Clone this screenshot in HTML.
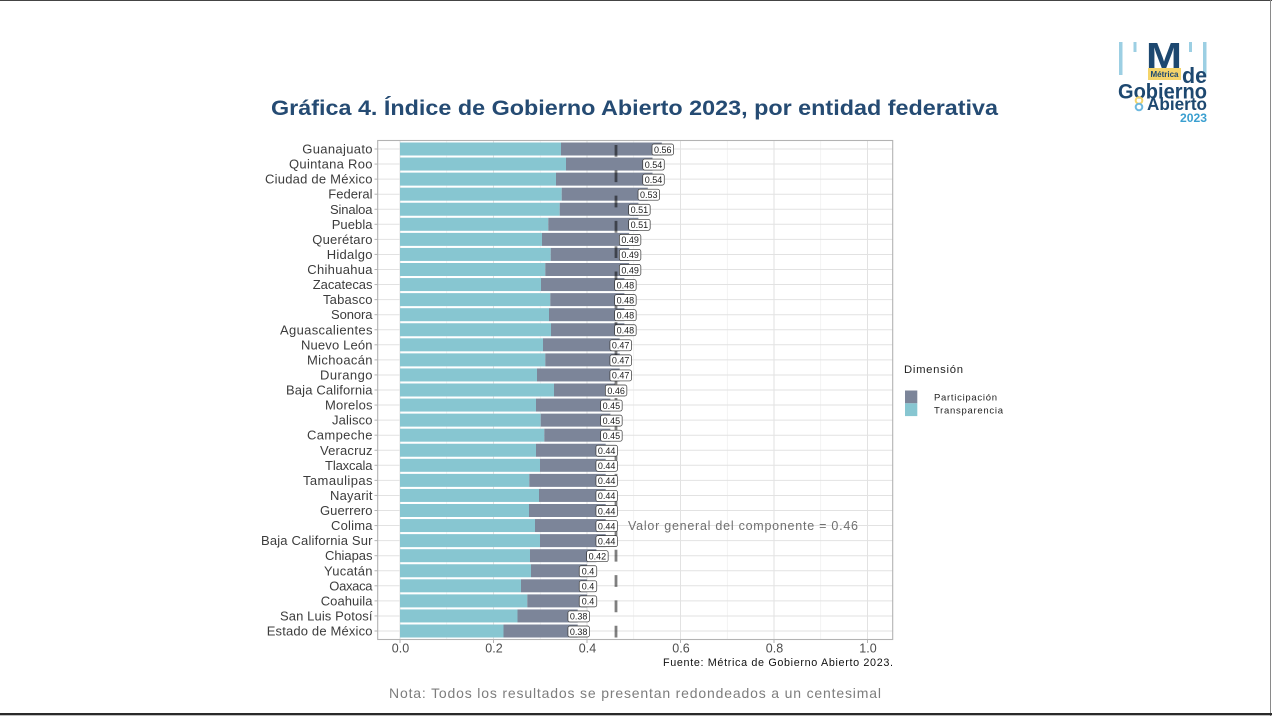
<!DOCTYPE html>
<html><head><meta charset="utf-8"><style>
html,body{margin:0;padding:0;background:#fff;}
svg{display:block;font-family:"Liberation Sans",sans-serif;}
</style></head><body>
<svg width="1272" height="716" viewBox="0 0 1272 716" xmlns="http://www.w3.org/2000/svg">
<rect x="0" y="0" width="1272" height="716" fill="#fff"/>
<!-- frame -->
<line x1="0" y1="0.5" x2="1272" y2="0.5" stroke="#444" stroke-width="1"/>
<line x1="1270.5" y1="0" x2="1270.5" y2="716" stroke="#8a8a8a" stroke-width="1"/>
<rect x="0" y="713" width="1272" height="2.3" fill="#2a2a2a"/>

<!-- Logo -->
<g>
<rect x="1119" y="42" width="3.5" height="33" fill="#9ccfe3"/>
<rect x="1133.5" y="42" width="3" height="10" fill="#9ccfe3"/>
<rect x="1189" y="42" width="3" height="10" fill="#9ccfe3"/>
<rect x="1203" y="42" width="3.5" height="34" fill="#9ccfe3"/>
<text x="1146" y="68" font-size="36" font-weight="bold" fill="#1d4870" textLength="36" lengthAdjust="spacingAndGlyphs">M</text>
<rect x="1148" y="68" width="33" height="12" fill="#f4d46a"/>
<text x="1164.5" y="77" font-size="8" font-weight="bold" fill="#1d4870" text-anchor="middle">Métrica</text>
<text x="1182" y="83" font-size="22" font-weight="bold" fill="#1d4870" textLength="25" lengthAdjust="spacingAndGlyphs">de</text>
<text x="1118" y="98.5" font-size="21" font-weight="bold" fill="#1d4870" textLength="89" lengthAdjust="spacingAndGlyphs">Gobierno</text>
<text x="1147" y="110" font-size="17.5" font-weight="bold" fill="#1d4870" textLength="60" lengthAdjust="spacingAndGlyphs">Abierto</text>
<circle cx="1139" cy="100.5" r="3.3" fill="none" stroke="#f4d46a" stroke-width="2"/>
<circle cx="1139" cy="107" r="3.3" fill="none" stroke="#6db8de" stroke-width="2"/>
<text x="1180" y="122" font-size="12" font-weight="bold" fill="#3a9fd0" textLength="27" lengthAdjust="spacingAndGlyphs">2023</text>
</g>

<!-- Title -->
<text x="271" y="115" font-size="21" font-weight="bold" fill="#254b73" textLength="727" lengthAdjust="spacingAndGlyphs">Gráfica 4. Índice de Gobierno Abierto 2023, por entidad federativa</text>

<!-- grid -->
<g stroke="#ececec" stroke-width="0.6">
<line x1="446.75" y1="140" x2="446.75" y2="640"/>
<line x1="540.25" y1="140" x2="540.25" y2="640"/>
<line x1="633.75" y1="140" x2="633.75" y2="640"/>
<line x1="727.25" y1="140" x2="727.25" y2="640"/>
<line x1="820.75" y1="140" x2="820.75" y2="640"/>
</g>
<g stroke="#e2e2e2" stroke-width="1">
<line x1="400" y1="140" x2="400" y2="640"/>
<line x1="493.5" y1="140" x2="493.5" y2="640"/>
<line x1="587" y1="140" x2="587" y2="640"/>
<line x1="680.5" y1="140" x2="680.5" y2="640"/>
<line x1="774" y1="140" x2="774" y2="640"/>
<line x1="867.5" y1="140" x2="867.5" y2="640"/>
<line x1="378" y1="149" x2="892.5" y2="149"/>
<line x1="378" y1="164.06" x2="892.5" y2="164.06"/>
<line x1="378" y1="179.13" x2="892.5" y2="179.13"/>
<line x1="378" y1="194.19" x2="892.5" y2="194.19"/>
<line x1="378" y1="209.25" x2="892.5" y2="209.25"/>
<line x1="378" y1="224.31" x2="892.5" y2="224.31"/>
<line x1="378" y1="239.38" x2="892.5" y2="239.38"/>
<line x1="378" y1="254.44" x2="892.5" y2="254.44"/>
<line x1="378" y1="269.5" x2="892.5" y2="269.5"/>
<line x1="378" y1="284.56" x2="892.5" y2="284.56"/>
<line x1="378" y1="299.63" x2="892.5" y2="299.63"/>
<line x1="378" y1="314.69" x2="892.5" y2="314.69"/>
<line x1="378" y1="329.75" x2="892.5" y2="329.75"/>
<line x1="378" y1="344.81" x2="892.5" y2="344.81"/>
<line x1="378" y1="359.88" x2="892.5" y2="359.88"/>
<line x1="378" y1="374.94" x2="892.5" y2="374.94"/>
<line x1="378" y1="390" x2="892.5" y2="390"/>
<line x1="378" y1="405.06" x2="892.5" y2="405.06"/>
<line x1="378" y1="420.13" x2="892.5" y2="420.13"/>
<line x1="378" y1="435.19" x2="892.5" y2="435.19"/>
<line x1="378" y1="450.25" x2="892.5" y2="450.25"/>
<line x1="378" y1="465.31" x2="892.5" y2="465.31"/>
<line x1="378" y1="480.38" x2="892.5" y2="480.38"/>
<line x1="378" y1="495.44" x2="892.5" y2="495.44"/>
<line x1="378" y1="510.5" x2="892.5" y2="510.5"/>
<line x1="378" y1="525.56" x2="892.5" y2="525.56"/>
<line x1="378" y1="540.63" x2="892.5" y2="540.63"/>
<line x1="378" y1="555.69" x2="892.5" y2="555.69"/>
<line x1="378" y1="570.75" x2="892.5" y2="570.75"/>
<line x1="378" y1="585.81" x2="892.5" y2="585.81"/>
<line x1="378" y1="600.88" x2="892.5" y2="600.88"/>
<line x1="378" y1="615.94" x2="892.5" y2="615.94"/>
<line x1="378" y1="631" x2="892.5" y2="631"/>
</g>

<!-- Transparencia bars -->
<g fill="#87c6d1">
<rect x="400" y="142.5" width="161" height="13"/>
<rect x="400" y="157.56" width="166" height="13"/>
<rect x="400" y="172.63" width="156" height="13"/>
<rect x="400" y="187.69" width="161.7" height="13"/>
<rect x="400" y="202.75" width="159.7" height="13"/>
<rect x="400" y="217.81" width="148.3" height="13"/>
<rect x="400" y="232.88" width="142" height="13"/>
<rect x="400" y="247.94" width="150.7" height="13"/>
<rect x="400" y="263" width="145.3" height="13"/>
<rect x="400" y="278.06" width="141" height="13"/>
<rect x="400" y="293.13" width="150.3" height="13"/>
<rect x="400" y="308.19" width="149" height="13"/>
<rect x="400" y="323.25" width="151" height="13"/>
<rect x="400" y="338.31" width="143" height="13"/>
<rect x="400" y="353.38" width="145.3" height="13"/>
<rect x="400" y="368.44" width="137" height="13"/>
<rect x="400" y="383.5" width="154" height="13"/>
<rect x="400" y="398.56" width="136" height="13"/>
<rect x="400" y="413.63" width="140.7" height="13"/>
<rect x="400" y="428.69" width="144.3" height="13"/>
<rect x="400" y="443.75" width="136" height="13"/>
<rect x="400" y="458.81" width="140" height="13"/>
<rect x="400" y="473.88" width="129.3" height="13"/>
<rect x="400" y="488.94" width="139" height="13"/>
<rect x="400" y="504" width="129" height="13"/>
<rect x="400" y="519.06" width="135" height="13"/>
<rect x="400" y="534.13" width="140" height="13"/>
<rect x="400" y="549.19" width="130" height="13"/>
<rect x="400" y="564.25" width="131" height="13"/>
<rect x="400" y="579.31" width="121" height="13"/>
<rect x="400" y="594.38" width="127.3" height="13"/>
<rect x="400" y="609.44" width="117.5" height="13"/>
<rect x="400" y="624.5" width="103.5" height="13"/>
</g>
<!-- Participacion bars -->
<g fill="#7c8599">
<rect x="561" y="142.5" width="100.8" height="13"/>
<rect x="566" y="157.56" width="86.5" height="13"/>
<rect x="556" y="172.63" width="96.5" height="13"/>
<rect x="561.7" y="187.69" width="86.1" height="13"/>
<rect x="559.7" y="202.75" width="78.7" height="13"/>
<rect x="548.3" y="217.81" width="90.1" height="13"/>
<rect x="542" y="232.88" width="87.1" height="13"/>
<rect x="550.7" y="247.94" width="78.4" height="13"/>
<rect x="545.3" y="263" width="83.8" height="13"/>
<rect x="541" y="278.06" width="83.4" height="13"/>
<rect x="550.3" y="293.13" width="74.1" height="13"/>
<rect x="549" y="308.19" width="75.4" height="13"/>
<rect x="551" y="323.25" width="73.4" height="13"/>
<rect x="543" y="338.31" width="76.7" height="13"/>
<rect x="545.3" y="353.38" width="74.4" height="13"/>
<rect x="537" y="368.44" width="82.7" height="13"/>
<rect x="554" y="383.5" width="61.1" height="13"/>
<rect x="536" y="398.56" width="74.4" height="13"/>
<rect x="540.7" y="413.63" width="69.7" height="13"/>
<rect x="544.3" y="428.69" width="66.1" height="13"/>
<rect x="536" y="443.75" width="69.7" height="13"/>
<rect x="540" y="458.81" width="65.7" height="13"/>
<rect x="529.3" y="473.88" width="76.4" height="13"/>
<rect x="539" y="488.94" width="66.7" height="13"/>
<rect x="529" y="504" width="76.7" height="13"/>
<rect x="535" y="519.06" width="70.7" height="13"/>
<rect x="540" y="534.13" width="65.7" height="13"/>
<rect x="530" y="549.19" width="66.4" height="13"/>
<rect x="531" y="564.25" width="56" height="13"/>
<rect x="521" y="579.31" width="66" height="13"/>
<rect x="527.3" y="594.38" width="59.7" height="13"/>
<rect x="517.5" y="609.44" width="60.2" height="13"/>
<rect x="503.5" y="624.5" width="74.2" height="13"/>
</g>

<!-- dashed reference line -->
<line x1="616" y1="140" x2="616" y2="640" stroke="#000" stroke-opacity="0.5" stroke-width="2.8" stroke-dasharray="11.8 13.5" stroke-dashoffset="20.3"/>

<!-- value labels -->
<g fill="#fff" stroke="#333" stroke-width="0.7">
<rect x="652.05" y="144" width="21.5" height="11" rx="2"/>
<rect x="642.75" y="159.06" width="21.5" height="11" rx="2"/>
<rect x="642.75" y="174.13" width="21.5" height="11" rx="2"/>
<rect x="638.05" y="189.19" width="21.5" height="11" rx="2"/>
<rect x="628.65" y="204.25" width="21.5" height="11" rx="2"/>
<rect x="628.65" y="219.31" width="21.5" height="11" rx="2"/>
<rect x="619.35" y="234.38" width="21.5" height="11" rx="2"/>
<rect x="619.35" y="249.44" width="21.5" height="11" rx="2"/>
<rect x="619.35" y="264.5" width="21.5" height="11" rx="2"/>
<rect x="614.65" y="279.56" width="21.5" height="11" rx="2"/>
<rect x="614.65" y="294.63" width="21.5" height="11" rx="2"/>
<rect x="614.65" y="309.69" width="21.5" height="11" rx="2"/>
<rect x="614.65" y="324.75" width="21.5" height="11" rx="2"/>
<rect x="609.95" y="339.81" width="21.5" height="11" rx="2"/>
<rect x="609.95" y="354.88" width="21.5" height="11" rx="2"/>
<rect x="609.95" y="369.94" width="21.5" height="11" rx="2"/>
<rect x="605.35" y="385" width="21.5" height="11" rx="2"/>
<rect x="600.65" y="400.06" width="21.5" height="11" rx="2"/>
<rect x="600.65" y="415.13" width="21.5" height="11" rx="2"/>
<rect x="600.65" y="430.19" width="21.5" height="11" rx="2"/>
<rect x="595.95" y="445.25" width="21.5" height="11" rx="2"/>
<rect x="595.95" y="460.31" width="21.5" height="11" rx="2"/>
<rect x="595.95" y="475.38" width="21.5" height="11" rx="2"/>
<rect x="595.95" y="490.44" width="21.5" height="11" rx="2"/>
<rect x="595.95" y="505.5" width="21.5" height="11" rx="2"/>
<rect x="595.95" y="520.56" width="21.5" height="11" rx="2"/>
<rect x="595.95" y="535.63" width="21.5" height="11" rx="2"/>
<rect x="586.65" y="550.69" width="21.5" height="11" rx="2"/>
<rect x="579.25" y="565.75" width="17.5" height="11" rx="2"/>
<rect x="579.25" y="580.81" width="17.5" height="11" rx="2"/>
<rect x="579.25" y="595.88" width="17.5" height="11" rx="2"/>
<rect x="567.95" y="610.94" width="21.5" height="11" rx="2"/>
<rect x="567.95" y="626" width="21.5" height="11" rx="2"/>
</g>
<g font-size="9" fill="#1a1a1a" text-anchor="middle">
<text x="662.8" y="152.8">0.56</text>
<text x="653.5" y="167.86">0.54</text>
<text x="653.5" y="182.93">0.54</text>
<text x="648.8" y="197.99">0.53</text>
<text x="639.4" y="213.05">0.51</text>
<text x="639.4" y="228.11">0.51</text>
<text x="630.1" y="243.18">0.49</text>
<text x="630.1" y="258.24">0.49</text>
<text x="630.1" y="273.3">0.49</text>
<text x="625.4" y="288.36">0.48</text>
<text x="625.4" y="303.43">0.48</text>
<text x="625.4" y="318.49">0.48</text>
<text x="625.4" y="333.55">0.48</text>
<text x="620.7" y="348.61">0.47</text>
<text x="620.7" y="363.68">0.47</text>
<text x="620.7" y="378.74">0.47</text>
<text x="616.1" y="393.8">0.46</text>
<text x="611.4" y="408.86">0.45</text>
<text x="611.4" y="423.93">0.45</text>
<text x="611.4" y="438.99">0.45</text>
<text x="606.7" y="454.05">0.44</text>
<text x="606.7" y="469.11">0.44</text>
<text x="606.7" y="484.18">0.44</text>
<text x="606.7" y="499.24">0.44</text>
<text x="606.7" y="514.3">0.44</text>
<text x="606.7" y="529.36">0.44</text>
<text x="606.7" y="544.43">0.44</text>
<text x="597.4" y="559.49">0.42</text>
<text x="588" y="574.55">0.4</text>
<text x="588" y="589.61">0.4</text>
<text x="588" y="604.68">0.4</text>
<text x="578.7" y="619.74">0.38</text>
<text x="578.7" y="634.8">0.38</text>
</g>

<!-- annotation -->
<text x="628" y="529.8" font-size="12.5" fill="#707070" textLength="230">Valor general del componente = 0.46</text>

<!-- panel border -->
<rect x="377.7" y="140.5" width="515" height="499" fill="none" stroke="#b3b3b3" stroke-width="1.1"/>

<!-- y ticks -->
<g stroke="#b3b3b3" stroke-width="1">
<line x1="374.5" y1="149" x2="377.7" y2="149"/>
<line x1="374.5" y1="164.06" x2="377.7" y2="164.06"/>
<line x1="374.5" y1="179.13" x2="377.7" y2="179.13"/>
<line x1="374.5" y1="194.19" x2="377.7" y2="194.19"/>
<line x1="374.5" y1="209.25" x2="377.7" y2="209.25"/>
<line x1="374.5" y1="224.31" x2="377.7" y2="224.31"/>
<line x1="374.5" y1="239.38" x2="377.7" y2="239.38"/>
<line x1="374.5" y1="254.44" x2="377.7" y2="254.44"/>
<line x1="374.5" y1="269.5" x2="377.7" y2="269.5"/>
<line x1="374.5" y1="284.56" x2="377.7" y2="284.56"/>
<line x1="374.5" y1="299.63" x2="377.7" y2="299.63"/>
<line x1="374.5" y1="314.69" x2="377.7" y2="314.69"/>
<line x1="374.5" y1="329.75" x2="377.7" y2="329.75"/>
<line x1="374.5" y1="344.81" x2="377.7" y2="344.81"/>
<line x1="374.5" y1="359.88" x2="377.7" y2="359.88"/>
<line x1="374.5" y1="374.94" x2="377.7" y2="374.94"/>
<line x1="374.5" y1="390" x2="377.7" y2="390"/>
<line x1="374.5" y1="405.06" x2="377.7" y2="405.06"/>
<line x1="374.5" y1="420.13" x2="377.7" y2="420.13"/>
<line x1="374.5" y1="435.19" x2="377.7" y2="435.19"/>
<line x1="374.5" y1="450.25" x2="377.7" y2="450.25"/>
<line x1="374.5" y1="465.31" x2="377.7" y2="465.31"/>
<line x1="374.5" y1="480.38" x2="377.7" y2="480.38"/>
<line x1="374.5" y1="495.44" x2="377.7" y2="495.44"/>
<line x1="374.5" y1="510.5" x2="377.7" y2="510.5"/>
<line x1="374.5" y1="525.56" x2="377.7" y2="525.56"/>
<line x1="374.5" y1="540.63" x2="377.7" y2="540.63"/>
<line x1="374.5" y1="555.69" x2="377.7" y2="555.69"/>
<line x1="374.5" y1="570.75" x2="377.7" y2="570.75"/>
<line x1="374.5" y1="585.81" x2="377.7" y2="585.81"/>
<line x1="374.5" y1="600.88" x2="377.7" y2="600.88"/>
<line x1="374.5" y1="615.94" x2="377.7" y2="615.94"/>
<line x1="374.5" y1="631" x2="377.7" y2="631"/>
<line x1="400" y1="640" x2="400" y2="643"/>
<line x1="493.5" y1="640" x2="493.5" y2="643"/>
<line x1="587" y1="640" x2="587" y2="643"/>
<line x1="680.5" y1="640" x2="680.5" y2="643"/>
<line x1="774" y1="640" x2="774" y2="643"/>
<line x1="867.5" y1="640" x2="867.5" y2="643"/>
</g>

<!-- y labels -->
<g font-size="13" fill="#3c3c3c" text-anchor="end">
<text x="372.5" y="153.5" textLength="70.2">Guanajuato</text>
<text x="372.5" y="168.56" textLength="83.5">Quintana Roo</text>
<text x="372.5" y="183.63" textLength="107.5">Ciudad de México</text>
<text x="372.5" y="198.69" textLength="44.2">Federal</text>
<text x="372.5" y="213.75" textLength="42.5">Sinaloa</text>
<text x="372.5" y="228.81" textLength="40.8">Puebla</text>
<text x="372.5" y="243.88" textLength="60.2">Querétaro</text>
<text x="372.5" y="258.94" textLength="45.8">Hidalgo</text>
<text x="372.5" y="274" textLength="65.2">Chihuahua</text>
<text x="372.5" y="289.06" textLength="59.8">Zacatecas</text>
<text x="372.5" y="304.13" textLength="49.5">Tabasco</text>
<text x="372.5" y="319.19" textLength="41.5">Sonora</text>
<text x="372.5" y="334.25" textLength="92.5">Aguascalientes</text>
<text x="372.5" y="349.31" textLength="71.5">Nuevo León</text>
<text x="372.5" y="364.38" textLength="65.5">Michoacán</text>
<text x="372.5" y="379.44" textLength="52.5">Durango</text>
<text x="372.5" y="394.5" textLength="86.5">Baja California</text>
<text x="372.5" y="409.56" textLength="47.5">Morelos</text>
<text x="372.5" y="424.63" textLength="40.5">Jalisco</text>
<text x="372.5" y="439.69" textLength="65.5">Campeche</text>
<text x="372.5" y="454.75" textLength="52.5">Veracruz</text>
<text x="372.5" y="469.81" textLength="47.5">Tlaxcala</text>
<text x="372.5" y="484.88" textLength="69.5">Tamaulipas</text>
<text x="372.5" y="499.94" textLength="42.5">Nayarit</text>
<text x="372.5" y="515" textLength="52.5">Guerrero</text>
<text x="372.5" y="530.06" textLength="41.5">Colima</text>
<text x="372.5" y="545.13" textLength="111.5">Baja California Sur</text>
<text x="372.5" y="560.19" textLength="47.5">Chiapas</text>
<text x="372.5" y="575.25" textLength="48.5">Yucatán</text>
<text x="372.5" y="590.31" textLength="43.2">Oaxaca</text>
<text x="372.5" y="605.38" textLength="51.8">Coahuila</text>
<text x="372.5" y="620.44" textLength="92.5">San Luis Potosí</text>
<text x="372.5" y="635.5" textLength="105.8">Estado de México</text>
</g>

<!-- x labels -->
<g font-size="12.5" fill="#4d4d4d" text-anchor="middle">
<text x="400.5" y="652.5">0.0</text>
<text x="494" y="652.5">0.2</text>
<text x="587.5" y="652.5">0.4</text>
<text x="681" y="652.5">0.6</text>
<text x="774.5" y="652.5">0.8</text>
<text x="868" y="652.5">1.0</text>
</g>

<!-- caption -->
<text x="893" y="666" font-size="10.8" fill="#111" text-anchor="end" textLength="230">Fuente: Métrica de Gobierno Abierto 2023.</text>

<!-- legend -->
<text x="904" y="373" font-size="11.3" fill="#222" textLength="59">Dimensión</text>
<rect x="905" y="390.5" width="12.3" height="12.8" fill="#7c8599"/>
<rect x="905" y="403.3" width="12.3" height="12.8" fill="#87c6d1"/>
<text x="934" y="400.5" font-size="9.5" fill="#222" textLength="63">Participación</text>
<text x="934" y="413.5" font-size="9.5" fill="#222" textLength="69">Transparencia</text>

<!-- note -->
<text x="389" y="698" font-size="14" fill="#7d7d7d" textLength="492">Nota: Todos los resultados se presentan redondeados a un centesimal</text>
</svg>
</body></html>
